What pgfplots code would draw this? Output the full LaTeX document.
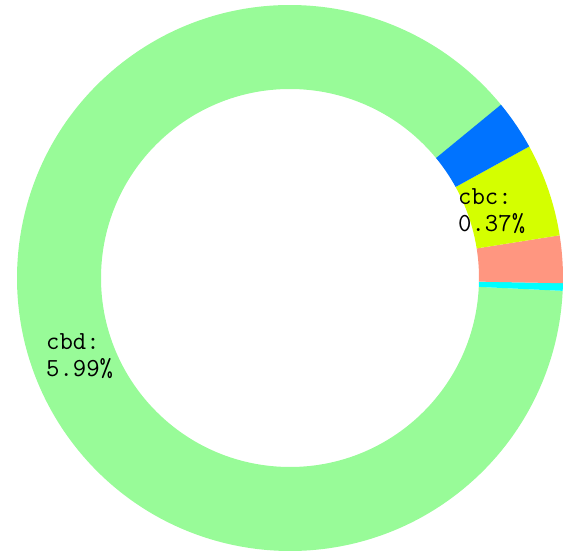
\documentclass[border=0pt]{standalone}
\usepackage{pgfplots}
\pgfplotsset{compat=1.18}
\usepackage{fontspec}
\definecolor{cgreen}{RGB}{152,251,152}
\definecolor{cblue}{RGB}{0,115,255}
\definecolor{cyellow}{RGB}{212,255,0}
\definecolor{csalmon}{RGB}{255,150,128}
\definecolor{ccyan}{RGB}{0,255,255}
% donut segments: start angle / end angle (degrees)
\newcommand\seg[3]{%
  \fill[#3, shift={(axis cs:290,277)}] (#1:273bp) arc[start angle=#1, end angle=#2, radius=273bp]
     -- (#2:189bp) arc[start angle=#2, end angle=#1, radius=189bp] -- cycle;}
\tikzset{lbl/.style={anchor=base west, inner sep=0pt, font=\ttfamily\fontsize{26bp}{27bp}\selectfont}}
\begin{document}
\begin{tikzpicture}
\begin{axis}[
  at={(0,0)}, anchor=south west,
  scale only axis, width=565bp, height=555bp,
  xmin=0, xmax=565, ymin=0, ymax=555,
  hide axis, clip=false]
\seg{39.3}{357.3}{cgreen}
\seg{357.3}{358.9}{ccyan}
\seg{-1.1}{9.0}{csalmon}
\seg{9.0}{28.8}{cyellow}
\seg{28.8}{39.4}{cblue}
\node[lbl] at (axis cs:458,350) {cbc:};
\node[lbl] at (axis cs:458,323) {0.37\%};
\node[lbl] at (axis cs:46,205) {cbd:};
\node[lbl] at (axis cs:46,178) {5.99\%};
\end{axis}
\pgfresetboundingbox
\path (0,0) rectangle (565bp,555bp);
\end{tikzpicture}
\end{document}
